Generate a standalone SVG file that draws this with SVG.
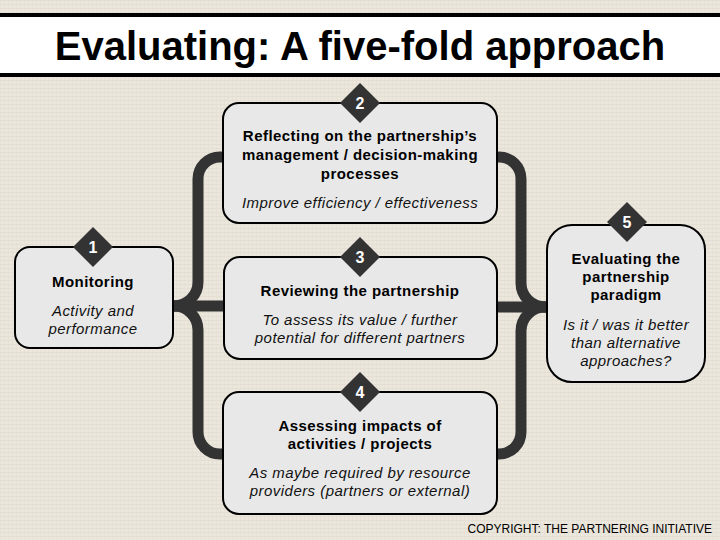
<svg xmlns="http://www.w3.org/2000/svg" width="720" height="540" viewBox="0 0 720 540">
<defs>
<pattern id="linen" width="4" height="4" patternUnits="userSpaceOnUse">
<rect width="4" height="4" fill="#ECE7DD"/>
<rect x="0" y="0" width="4" height="1" fill="#E2DCD0" opacity="0.7"/>
<rect x="0" y="0" width="1" height="4" fill="#E4DED2" opacity="0.6"/>
</pattern>
<style>
.box{fill:#E8E8E8;stroke:#000;stroke-width:2}
.dia{fill:#333333}
.num{font-family:"Liberation Sans",Arial,sans-serif;font-weight:bold;font-size:16px;fill:#fff;text-anchor:middle}
.hd{font-family:"Liberation Sans",Arial,sans-serif;font-weight:bold;font-size:15px;letter-spacing:0.45px;fill:#000;text-anchor:middle}
.it{font-family:"Liberation Sans",Arial,sans-serif;font-style:italic;font-size:15px;letter-spacing:0.45px;fill:#111;text-anchor:middle}
.con{fill:none;stroke:#333333;stroke-width:11}
</style>
</defs>
<rect width="720" height="540" fill="url(#linen)"/>
<g id="title">
<rect x="0" y="14" width="720" height="62" fill="#fff"/>
<rect x="0" y="13" width="720" height="4" fill="#000"/>
<rect x="0" y="73" width="720" height="4" fill="#000"/>
<text x="360" y="60" font-family="'Liberation Sans',Arial,sans-serif" font-weight="bold" font-size="40" text-anchor="middle" fill="#000">Evaluating: A five-fold approach</text>
</g>
<g id="connectors">
<path class="con" d="M230 157 H220 A22 22 0 0 0 198 179 V282 A24 24 0 0 1 174 306 H168"/>
<path class="con" d="M168 306 H174 A24 24 0 0 1 198 330 V432 A22 22 0 0 0 220 454 H230"/>
<path class="con" d="M168 306 H232"/>
<path class="con" d="M490 157 H499 A22 22 0 0 1 521 179 V283 A24 24 0 0 0 545 307 H552"/>
<path class="con" d="M552 307 H545 A24 24 0 0 0 521 331 V432 A22 22 0 0 1 499 454 H490"/>
<path class="con" d="M490 307 H552"/>
</g>
<g id="node2">
<rect class="box" x="223" y="103" width="274" height="120" rx="16"/>
<path class="dia" d="M360 83 L380 103 L360 123 L340 103 Z"/>
<text class="num" x="360" y="109">2</text>
<text class="hd" x="360" y="141">Reflecting on the partnership’s</text>
<text class="hd" x="360" y="160">management / decision-making</text>
<text class="hd" x="360" y="179">processes</text>
<text class="it" x="360" y="208">Improve efficiency / effectiveness</text>
</g>
<g id="node1">
<rect class="box" x="15" y="247" width="158" height="101" rx="15"/>
<path class="dia" d="M93 227 L113 247 L93 267 L73 247 Z"/>
<text class="num" x="93" y="253">1</text>
<text class="hd" x="93" y="287">Monitoring</text>
<text class="it" x="93" y="316">Activity and</text>
<text class="it" x="93" y="334">performance</text>
</g>
<g id="node3">
<rect class="box" x="224" y="257" width="273" height="102" rx="16"/>
<path class="dia" d="M360 237 L380 257 L360 277 L340 257 Z"/>
<text class="num" x="360" y="263">3</text>
<text class="hd" x="360" y="296">Reviewing the partnership</text>
<text class="it" x="360" y="325">To assess its value / further</text>
<text class="it" x="360" y="343">potential for different partners</text>
</g>
<g id="node4">
<rect class="box" x="223" y="392" width="274" height="122" rx="16"/>
<path class="dia" d="M360 372 L380 392 L360 412 L340 392 Z"/>
<text class="num" x="360" y="398">4</text>
<text class="hd" x="360" y="431">Assessing impacts of</text>
<text class="hd" x="360" y="449">activities / projects</text>
<text class="it" x="360" y="478">As maybe required by resource</text>
<text class="it" x="360" y="496">providers (partners or external)</text>
</g>
<g id="node5">
<rect class="box" x="547" y="225" width="158" height="157" rx="25"/>
<path class="dia" d="M627 202 L647 222 L627 242 L607 222 Z"/>
<text class="num" x="627" y="228">5</text>
<text class="hd" x="626" y="264">Evaluating the</text>
<text class="hd" x="626" y="282">partnership</text>
<text class="hd" x="626" y="300">paradigm</text>
<text class="it" x="626" y="330">Is it / was it better</text>
<text class="it" x="626" y="348">than alternative</text>
<text class="it" x="626" y="366">approaches?</text>
</g>
<text x="712" y="533" font-family="'Liberation Sans',Arial,sans-serif" font-size="12" text-anchor="end" fill="#000">COPYRIGHT: THE PARTNERING INITIATIVE</text>
</svg>
